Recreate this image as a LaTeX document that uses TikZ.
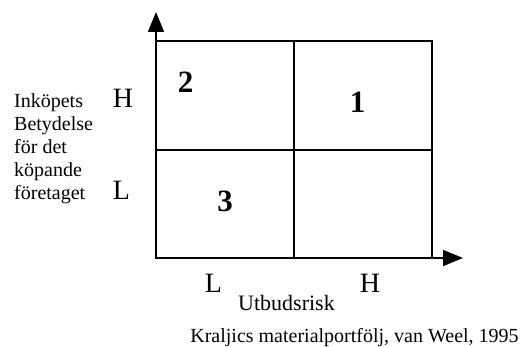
\documentclass[tikz,border=0pt]{standalone}
\usepackage{fontspec}
\setmainfont{Liberation Serif}
\usetikzlibrary{arrows.meta}

\tikzset{
  axis/.style={line width=1.6pt, -{Triangle[length=20pt,width=16pt]}},
  field line/.style={line width=1.6pt},
  level/.style={font=\fontsize{28}{32}\selectfont, inner sep=0pt, anchor=base},
  number/.style={font=\fontsize{31}{34}\selectfont\bfseries, inner sep=0pt, anchor=base},
  label text/.style={font=\fontsize{20}{23}\selectfont, inner sep=0pt},
}

\begin{document}
\begin{tikzpicture}[x=1pt, y=-1pt]
    \useasboundingbox (0,0) rectangle (522,347);
    \coordinate (origin) at (156,258);
    \coordinate (ytip) at (156,12);
    \coordinate (xtip) at (463,258);
    % four fields
    \draw[field line] (156,41) rectangle (432,258);
    \draw[field line] (294,41) -- (294,258);
    \draw[field line] (156,150) -- (432,150);
    % axes
    \draw[axis] (origin) -- (ytip);
    \draw[axis] (origin) -- (xtip);
    % vertical axis, one line per node
    \foreach \txt [count=\i] in {Inköpets, Betydelse, för det, köpande, företaget}
        \node[label text, anchor=base west] (ylabel\i) at (14,85+23*\i) {\txt};
    \node[level] (yhigh) at (123,108) {H};
    \node[level] (ylow) at (121.5,200) {L};
    % horizontal axis
    \node[level] (xlow) at (213.5,292.5) {L};
    \node[level] (xhigh) at (370,292.5) {H};
    \node[label text, font=\fontsize{22}{25}\selectfont, anchor=base west] (xlabel) at (238,310) {Utbudsrisk};
    % field numbers
    \node[number] (f2) at (185.5,93) {2};
    \node[number] (f1) at (357.5,113) {1};
    \node[number] (f3) at (225,212) {3};
    \node[label text, anchor=base] (source) at (354.5,342) {Kraljics materialportfölj, van Weel, 1995};
\end{tikzpicture}
\end{document}
